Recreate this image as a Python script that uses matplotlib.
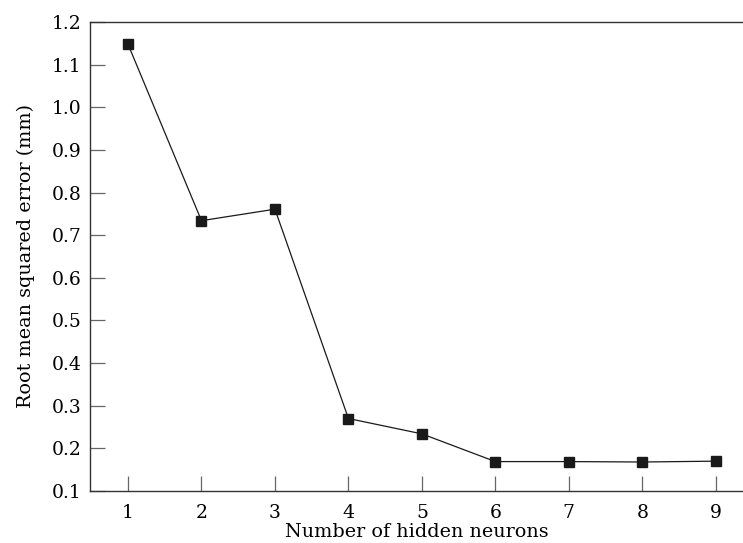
import matplotlib.pyplot as plt

neurons = [1, 2, 3, 4, 5, 6, 7, 8, 9]
rmse = [1.148, 0.734, 0.761, 0.270, 0.234, 0.169, 0.169, 0.168, 0.170]
yticks = [0.1, 0.2, 0.3, 0.4, 0.5, 0.6, 0.7, 0.8, 0.9, 1.0, 1.1, 1.2]

plt.rcParams['font.family'] = ['DejaVu Serif']

fig = plt.figure(figsize=(7.43, 5.43), dpi=100)
ax = fig.add_axes([90 / 743, 52 / 543, 1 - 90 / 743, 469 / 543])

ax.plot(neurons, rmse, marker='s', markersize=6.5, color='#1a1a1a', linewidth=0.9)

ax.set_xlim(0.483, 9.37)
ax.set_ylim(0.1, 1.2)
ax.set_xticks(neurons)
ax.set_yticks(yticks)
ax.set_yticklabels(['%.1f' % v for v in yticks])

ax.spines['right'].set_visible(False)
for s in ['left', 'bottom', 'top']:
    ax.spines[s].set_color('#333333')
    ax.spines[s].set_linewidth(1.0)

ax.tick_params(axis='y', direction='in', length=11, width=0.9, color='#666666',
               labelsize=13.5, pad=6, right=False)
ax.tick_params(axis='x', direction='in', length=11, width=0.9, color='#666666',
               labelsize=13.5, pad=9, top=False)

ax.set_xlabel('Number of hidden neurons', fontsize=13.8, labelpad=1)
ax.set_ylabel('Root mean squared error (mm)', fontsize=13.8, labelpad=12)

plt.savefig('out.png', dpi=100)
